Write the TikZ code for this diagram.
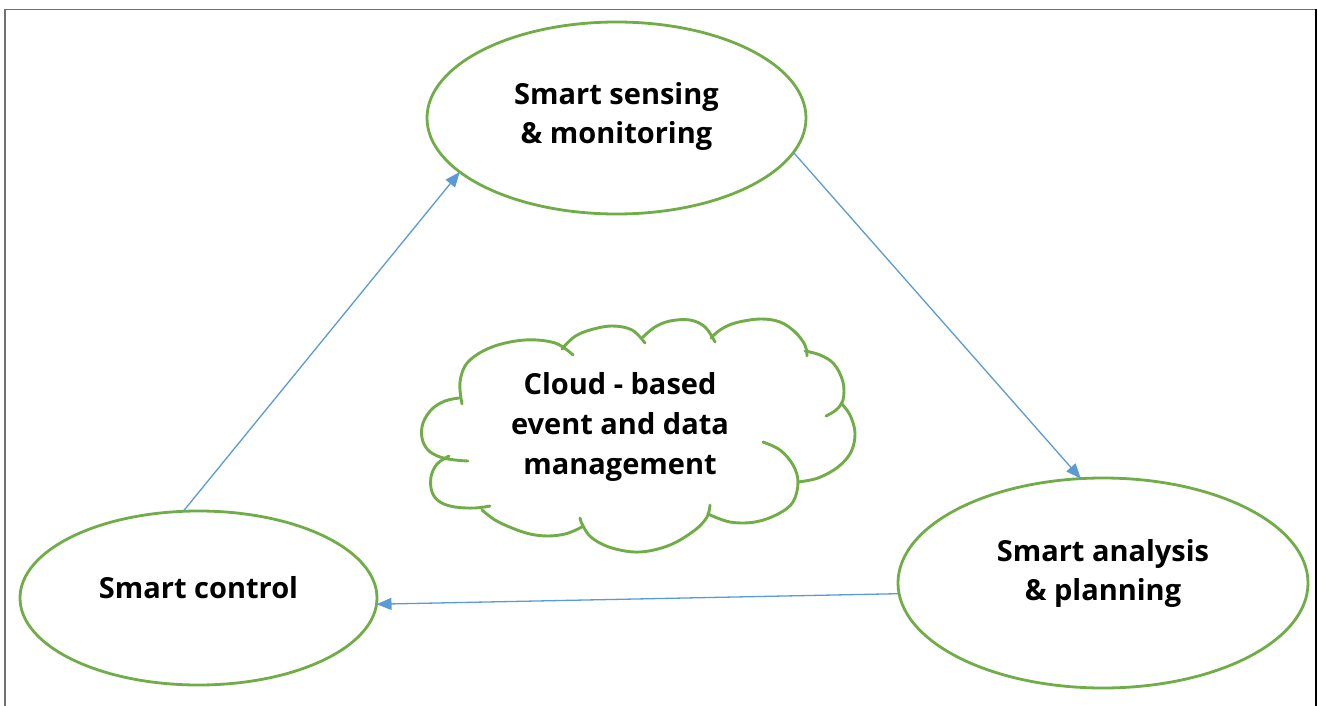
\documentclass[tikz,border=0pt]{standalone}
\usepackage{fontspec}
\setmainfont{Open Sans}
\usetikzlibrary{shapes.geometric,arrows.meta}
\definecolor{leafgreen}{RGB}{112,173,71}
\definecolor{skyblue}{RGB}{91,155,213}
\definecolor{framegray}{RGB}{112,112,112}

\begin{document}
\begin{tikzpicture}[x=1pt,y=1pt,
  bubble/.style={ellipse, draw=leafgreen, line width=2.8pt, inner sep=0pt, outer sep=0pt},
  stagetext/.style={align=center, font=\bfseries\fontsize{29}{39}\selectfont},
  flow/.style={draw=skyblue, line width=1.3pt, -{Triangle[length=15pt,width=12pt]}},
  puff/.style={draw=leafgreen, line width=2.9pt, line cap=round, line join=round},
  cloudlabel/.style={align=center, font=\bfseries\fontsize{29}{40}\selectfont}]

% canvas
\fill[white] (0,0) rectangle (1318,-706);
\useasboundingbox (0,0) rectangle (1318,-706);

% frame (open at the bottom)
\draw[framegray, line width=1.6pt] (4.7,-706) -- (4.7,-9.5) -- (1315.7,-9.5);
\draw[black, line width=1.6pt] (1315.7,-9.5) -- (1315.7,-706);

% stages of the cycle
\node[bubble, minimum width=379pt, minimum height=192pt,
  label={[stagetext, yshift=2pt]center:{Smart sensing\\\& monitoring}}] (sense) at (616.5,-118) {};
\node[bubble, minimum width=410pt, minimum height=210pt,
  label={[stagetext, yshift=9.5pt]center:{Smart analysis\\\& planning}}] (plan) at (1103,-583) {};
\node[bubble, minimum width=357pt, minimum height=174pt,
  label={[stagetext, yshift=10pt]center:{Smart control}}] (ctrl) at (198.5,-598) {};

% cloud outline, one puff at a time
\draw[puff] plot[smooth, tension=0.6] coordinates {(462,-404) (460,-382) (468,-362) (492,-347) (525,-340) (555,-343) (573,-355)};
\draw[puff] plot[smooth, tension=0.6] coordinates {(562,-349) (574,-337) (590,-330) (612,-326) (632,-330) (645,-343)};
\draw[puff] plot[smooth, tension=0.6] coordinates {(643,-337) (655,-327) (670,-321) (690,-320) (705,-327) (715,-342)};
\draw[puff] plot[smooth, tension=0.6] coordinates {(711,-338) (720,-330) (735,-323) (760,-319) (780,-322) (795,-332) (805,-345) (807,-356)};
\draw[puff] plot[smooth, tension=0.6] coordinates {(805,-351) (820,-355) (834,-364) (843,-382) (843,-400) (836,-410) (826,-416)};
\draw[puff] plot[smooth, tension=0.6] coordinates {(841,-403) (850,-415) (855,-433) (851,-452) (838,-467) (818,-478) (798,-482)};
\draw[puff] plot[smooth, tension=0.6] coordinates {(763,-442) (780,-450) (793,-465) (798,-482) (793,-502) (778,-514) (755,-522) (730,-522) (708,-514)};
\draw[puff] plot[smooth, tension=0.6] coordinates {(710,-505) (707,-517) (695,-530) (670,-545) (640,-552) (612,-548) (592,-538) (583,-526) (580,-518)};
\draw[puff] plot[smooth, tension=0.6] coordinates {(482,-510) (495,-520) (512,-528) (530,-534) (548,-536) (565,-534) (578,-529) (583,-526)};
\draw[puff] plot[smooth, tension=0.6] coordinates {(449,-456) (437,-464) (431,-477) (432,-492) (440,-502) (455,-507) (475,-508) (490,-506)};
\draw[puff] plot[smooth, tension=0.6] coordinates {(459,-398) (445,-401) (432,-409) (423,-423) (422,-438) (428,-450) (440,-457) (455,-460) (468,-461)};

\node[cloudlabel] (cloudtext) at (620,-427) {Cloud - based\\event and data\\management};

% cycle arrows
\draw[flow] (ctrl.100.2) -- (sense.199.3);
\draw[flow] (sense.349) -- (plan.102.8);
\draw[flow] (plan.183.4) -- (ctrl.358.4);
\end{tikzpicture}
\end{document}
